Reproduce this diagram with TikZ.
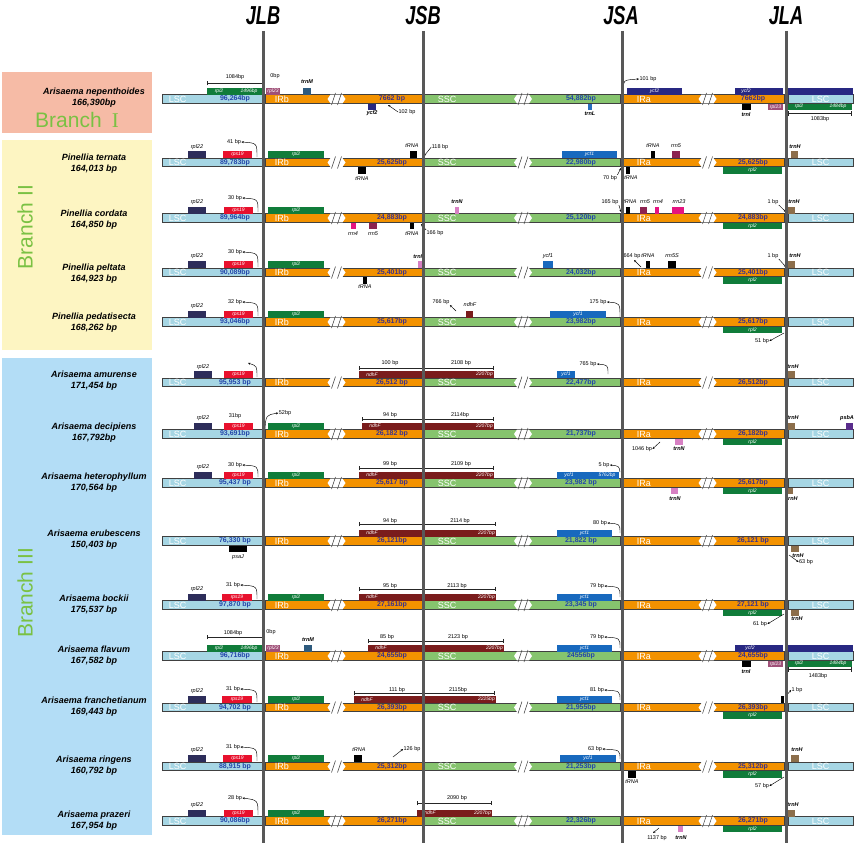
\documentclass[tikz,border=0pt]{standalone}
\usepackage{fontspec}
\setmainfont{Liberation Sans}
\newfontfamily\numfont{Liberation Serif}
\usetikzlibrary{arrows.meta,positioning}

\definecolor{lscblue}{RGB}{166,214,228}
\definecolor{irorange}{RGB}{243,146,0}
\definecolor{sscgreen}{RGB}{134,196,110}
\definecolor{bargray}{RGB}{64,64,64}
\definecolor{vgray}{RGB}{88,88,88}
\definecolor{valblue}{RGB}{35,70,170}
\definecolor{irval}{RGB}{60,50,140}
\definecolor{rplnavy}{RGB}{45,45,90}
\definecolor{rpsred}{RGB}{232,17,45}
\definecolor{rplgreen}{RGB}{16,124,58}
\definecolor{ycfblue}{RGB}{24,105,190}
\definecolor{ycftwo}{RGB}{40,40,130}
\definecolor{ndhred}{RGB}{122,28,28}
\definecolor{trnbrown}{RGB}{140,110,75}
\definecolor{trnpink}{RGB}{215,128,195}
\definecolor{trnlblue}{RGB}{40,110,190}
\definecolor{trnmblue}{RGB}{45,90,125}
\definecolor{rrnmaroon}{RGB}{140,35,80}
\definecolor{rrnmag}{RGB}{228,20,128}
\definecolor{rplmauve}{RGB}{160,80,120}
\definecolor{psbpurple}{RGB}{90,45,140}
\definecolor{brI}{RGB}{246,187,166}
\definecolor{brII}{RGB}{253,245,194}
\definecolor{brIII}{RGB}{179,221,246}
\definecolor{brgreen}{RGB}{122,193,67}

\newcounter{gcnt}
% break mark on a bar
\newcommand{\brk}[2]{%
  \fill[white] (#1-9,#2) -- (#1-6,#2-4.4) -- (#1+6,#2-4.4) -- (#1+9,#2) -- (#1+6,#2+4.4) -- (#1-6,#2+4.4) -- cycle;
  \draw[bargray,line width=0.5pt] (#1-5,#2+6) -- (#1-1,#2-6) (#1+1,#2+6) -- (#1+5,#2-6);}
% one genome: name, y, LSC, IRb, SSC, IRa
\newcommand{\genome}[6]{%
  \node[seg,fill=lscblue,minimum width=100pt] (#1lscb) at (212,#2) {};
  \node[seg,fill=irorange,minimum width=157pt] (#1irb) at (343.5,#2) {};
  \node[seg,fill=sscgreen,minimum width=196pt] (#1ssc) at (522,#2) {};
  \node[seg,fill=irorange,minimum width=161pt] (#1ira) at (703.5,#2) {};
  \node[seg,fill=lscblue,minimum width=65pt] (#1lsca) at (820.5,#2) {};
  \brk{336.5}{#2}\brk{523}{#2}\brk{707.5}{#2}
  \node[segname,right=7pt of #1lscb.west] (#1n1) {LSC};
  \node[segname,right=10pt of #1irb.west] (#1n2) {IRb};
  \node[segname,right=14pt of #1ssc.west] (#1n3) {SSC};
  \node[segname,right=14pt of #1ira.west] (#1n4) {IRa};
  \node[segname] (#1n5) at (#1lsca) {LSC};
  \node[bpval,text=valblue] (#1v1) at (235,#2) {#3};
  \node[bpval,text=irval] (#1v2) at (392,#2) {#4};
  \node[bpval,text=valblue] (#1v3) at (581,#2) {#5};
  \node[bpval,text=irval] (#1v4) at (753,#2) {#6};}
% gene box above / below a bar
\newcommand{\geneup}[5]{%
  \fill[#4] (#1,#3-11.5) rectangle (#2,#3-4.5);
  \stepcounter{gcnt}\node[gin] (gb\thegcnt) at ({(#1+#2)/2},#3-8) {#5};}
\newcommand{\genedn}[5]{%
  \fill[#4] (#1,#3+4.5) rectangle (#2,#3+11);
  \stepcounter{gcnt}\node[gin] (gb\thegcnt) at ({(#1+#2)/2},#3+7.75) {#5};}
% ndhF across JSB
\newcommand{\ndhf}[4]{%
  \fill[ndhred] (#1,#3-11.5) rectangle (#2,#3-4.5);
  \stepcounter{gcnt}\node[gin] (gb\thegcnt) at (#1+13,#3-8) {ndhF};
  \stepcounter{gcnt}\node[gin,anchor=east] (gb\thegcnt) at (#2-1,#3-8) {#4};}

\begin{document}
\begin{tikzpicture}[x=1pt,y=-1pt,
  seg/.style={rectangle,draw=bargray,line width=0.9pt,minimum height=8.5pt,inner sep=0pt},
  segname/.style={text=white,font=\fontsize{9}{9}\selectfont,inner sep=0pt},
  bpval/.style={font=\bfseries\fontsize{7}{7}\selectfont,inner sep=0pt},
  lbl/.style={font=\fontsize{5.5}{6}\selectfont,inner sep=0.3pt},
  glbl/.style={font=\itshape\fontsize{5.5}{6}\selectfont,inner sep=0.3pt},
  gbold/.style={font=\bfseries\itshape\fontsize{5.5}{6}\selectfont,inner sep=0.3pt},
  gin/.style={font=\itshape\fontsize{5}{5}\selectfont,text=white,inner sep=0pt},
  arw/.style={-{Stealth[length=2.4pt,width=2pt]},line width=0.45pt},
  dim/.style={{Bar[width=4.5pt]}-{Bar[width=4.5pt]},line width=0.7pt,draw=black!85},
  sp/.style={font=\bfseries\itshape\fontsize{9}{11}\selectfont,align=center,inner sep=0pt},
  junc/.style={font=\bfseries\itshape\fontsize{26}{26}\selectfont,inner sep=0pt},
  branch/.style={text=brgreen,font=\fontsize{21}{21}\selectfont,inner sep=0pt},
  vline/.style={vgray,line width=3pt}]
\useasboundingbox (0,0) rectangle (858,843);

% branch panels
\fill[brI] (2,72) rectangle (152,133);
\fill[brII] (2,140) rectangle (152,350);
\fill[brIII] (2,358) rectangle (152,835);
\node[branch] (br1) at (77,120) {Branch\hspace{10pt}{\numfont I}};
\node[branch,rotate=90] (br2) at (25,227) {Branch II};
\node[branch,rotate=90] (br3) at (25,593) {Branch III};

% species
\node[sp] (sa) at (94,97.5) {Arisaema nepenthoides\\166,390bp};
\node[sp] (sb) at (94,163.5) {Pinellia ternata\\164,013 bp};
\node[sp] (sc) at (94,219.5) {Pinellia cordata\\164,850 bp};
\node[sp] (sd) at (94,273.5) {Pinellia peltata\\164,923 bp};
\node[sp] (se) at (94,323) {Pinellia pedatisecta\\168,262 bp};
\node[sp] (sf) at (94,381) {Arisaema amurense\\171,454 bp};
\node[sp] (sg) at (94,433) {Arisaema decipiens\\167,792bp};
\node[sp] (sh) at (94,483) {Arisaema heterophyllum\\170,564 bp};
\node[sp] (si) at (94,540) {Arisaema erubescens\\150,403 bp};
\node[sp] (sj) at (94,605) {Arisaema bockii\\175,537 bp};
\node[sp] (sk) at (94,656) {Arisaema flavum\\167,582 bp};
\node[sp] (sl) at (94,707) {Arisaema franchetianum\\169,443 bp};
\node[sp] (sm) at (94,766) {Arisaema ringens\\160,792 bp};
\node[sp] (sn) at (94,821) {Arisaema prazeri\\167,954 bp};

% genomes
\genome{a}{99}{96,264bp}{7662 bp}{54,882bp}{7662bp}
\genome{b}{162.5}{89,783bp}{25,625bp}{22,980bp}{25,625bp}
\genome{c}{218}{89,964bp}{24,883bp}{25,120bp}{24,883bp}
\genome{d}{272.5}{90,089bp}{25,401bp}{24,032bp}{25,401bp}
\genome{e}{322}{93,046bp}{25,617bp}{23,982bp}{25,617bp}
\genome{f}{382.5}{95,953 bp}{26,512 bp}{22,477bp}{26,512bp}
\genome{g}{434}{93,691bp}{26,182 bp}{21,737bp}{26,182bp}
\genome{h}{483}{95,437 bp}{25,617 bp}{23,982 bp}{25,617bp}
\genome{i}{541}{76,330 bp}{26,121bp}{21,822 bp}{26,121 bp}
\genome{j}{605}{97,870 bp}{27,161bp}{23,345 bp}{27,121 bp}
\genome{k}{656}{96,716bp}{24,655bp}{24556bp}{24,655bp}
\genome{l}{707.5}{94,702 bp}{26,393bp}{21,955bp}{26,393bp}
\genome{m}{766.5}{88,915 bp}{25,312bp}{21,253bp}{25,312bp}
\genome{n}{821}{90,086bp}{26,271bp}{22,326bp}{26,271bp}

% Arisaema nepenthoides
\draw[dim] (207,83) -- (263,83);
\node[lbl] (a1) at (235,77.5) {1084bp};
\node[lbl] (a2) at (275,76.5) {0bp};
\geneup{207}{262}{99}{rplgreen}{}
\node[gin] (a3) at (219,91) {rpl2};
\node[gin] (a4) at (249,91) {1496bp};
\geneup{266}{280}{99}{rplmauve}{rpl23}
\geneup{303}{311}{99}{trnmblue}{}
\node[gbold] (a5) at (307,82) {trnM};
\genedn{368}{376}{99}{ycftwo}{}
\node[gbold] (a6) at (372,113.5) {ycf2};
\node[lbl] (a7) at (407,112) {102 bp};
\draw[arw] (a7.west) -- (388,105);
\node[lbl] (a8) at (648,79) {101 bp};
\draw[arw] (623,91) .. controls (623,80) .. (a8.west);
\geneup{627}{682}{99}{ycftwo}{ycf2}
\geneup{735}{783}{99}{ycftwo}{}
\node[gin] (a9) at (746,91) {ycf2};
\geneup{788}{853}{99}{ycftwo}{}
\genedn{588}{592}{99}{trnlblue}{}
\node[gbold] (a10) at (590,113.5) {trnL};
\genedn{742}{751}{99}{black}{}
\node[gbold] (a11) at (746,115) {trnI};
\genedn{768}{783}{99}{rplmauve}{rpl23}
\genedn{788}{852}{99}{rplgreen}{}
\node[gin] (a12) at (799,106.5) {rpl2};
\node[gin] (a13) at (838,106.5) {1484bp};
\draw[dim] (788,113.5) -- (852,113.5);
\node[lbl] (a14) at (820,119.5) {1083bp};

% Pinellia ternata
\geneup{188}{206}{162.5}{rplnavy}{}
\node[glbl] (b1) at (197,147) {rpl22};
\geneup{223}{252}{162.5}{rpsred}{rps19}
\node[lbl] (b2) at (234,142) {41 bp};
\draw[arw] (257,157) .. controls (257,143) .. (b2.east);
\geneup{268}{324}{162.5}{rplgreen}{rpl2}
\geneup{410}{417}{162.5}{black}{}
\node[glbl] (b3) at (412,146) {tRNA};
\node[lbl] (b4) at (440,147) {118 bp};
\draw[arw] (b4.west) -- (424,156);
\genedn{358}{366}{162.5}{black}{}
\node[glbl] (b5) at (362,179) {tRNA};
\geneup{562}{617}{162.5}{ycfblue}{ycf1}
\geneup{651}{655}{162.5}{black}{}
\node[glbl] (b6) at (653,146) {tRNA};
\geneup{672}{680}{162.5}{rrnmaroon}{}
\node[glbl] (b7) at (676,146) {rrn5};
\geneup{791}{798}{162.5}{trnbrown}{}
\node[gbold] (b8) at (795,147) {trnH};
\genedn{626}{630}{162.5}{black}{}
\node[glbl] (b9) at (631,178) {tRNA};
\node[lbl] (b10) at (610,178) {70 bp};
\draw[arw] (b10.north east) -- (621,168);
\genedn{723}{782}{162.5}{rplgreen}{rpl2}

% Pinellia cordata
\geneup{188}{206}{218}{rplnavy}{}
\node[glbl] (c1) at (197,202) {rpl22};
\geneup{224}{253}{218}{rpsred}{rps19}
\node[lbl] (c2) at (235,198) {30 bp};
\draw[arw] (258,212) .. controls (258,199) .. (c2.east);
\geneup{268}{324}{218}{rplgreen}{rpl2}
\genedn{351}{356}{218}{rrnmag}{}
\node[glbl] (c3) at (353,234) {rrn4};
\genedn{369}{377}{218}{rrnmaroon}{}
\node[glbl] (c4) at (373,234) {rrn5};
\genedn{410}{414}{218}{black}{}
\node[glbl] (c5) at (412,234) {tRNA};
\node[lbl] (c6) at (435,233) {166 bp};
\draw[arw] (c6.north west) -- (421,224);
\geneup{455}{459}{218}{trnpink}{}
\node[gbold] (c7) at (457,202) {trnN};
\node[lbl] (c8) at (610,202) {165 bp};
\draw[arw] (c8.south east) -- (621,212);
\geneup{626}{630}{218}{black}{}
\node[glbl] (c9) at (630,202) {tRNA};
\geneup{640}{647}{218}{rrnmaroon}{}
\node[glbl] (c10) at (645,202) {rrn5};
\geneup{655}{659}{218}{rrnmag}{}
\node[glbl] (c11) at (658,202) {rrn4};
\geneup{672}{684}{218}{rrnmag}{}
\node[glbl] (c12) at (679,202) {rrn23};
\node[lbl] (c13) at (773,202) {1 bp};
\draw[arw] (c13.south east) -- (786,212);
\geneup{788}{795}{218}{trnbrown}{}
\node[gbold] (c14) at (794,202) {trnH};
\genedn{723}{782}{218}{rplgreen}{rpl2}

% Pinellia peltata
\geneup{188}{206}{272.5}{rplnavy}{}
\node[glbl] (d1) at (197,256) {rpl22};
\geneup{224}{253}{272.5}{rpsred}{rps19}
\node[lbl] (d2) at (235,252) {30 bp};
\draw[arw] (258,267) .. controls (258,253) .. (d2.east);
\geneup{268}{324}{272.5}{rplgreen}{rpl2}
\geneup{418}{422}{272.5}{trnpink}{}
\node[gbold] (d3) at (419,257) {trnN};
\genedn{363}{367}{272.5}{black}{}
\node[glbl] (d4) at (365,287) {tRNA};
\geneup{543}{553}{272.5}{ycfblue}{}
\node[glbl] (d5) at (548,256) {ycf1};
\node[lbl] (d6) at (632,256) {664 bp};
\draw[arw] (641,267) -- (634,260);
\geneup{646}{650}{272.5}{black}{}
\node[glbl] (d7) at (648,256) {tRNA};
\geneup{668}{676}{272.5}{black}{}
\node[glbl] (d8) at (672,256) {rrn5S};
\node[lbl] (d9) at (773,256) {1 bp};
\draw[arw] (d9.south east) -- (786,267);
\geneup{788}{795}{272.5}{trnbrown}{}
\node[gbold] (d10) at (795,256) {trnH};
\genedn{723}{782}{272.5}{rplgreen}{rpl2}

% Pinellia pedatisecta
\geneup{188}{206}{322}{rplnavy}{}
\node[glbl] (e1) at (197,306) {rpl22};
\geneup{224}{253}{322}{rpsred}{rps19}
\node[lbl] (e2) at (235,302) {32 bp};
\draw[arw] (258,316) .. controls (258,303) .. (e2.east);
\geneup{268}{324}{322}{rplgreen}{rpl2}
\node[lbl] (e3) at (441,302) {766 bp};
\draw[arw] (456,311) -- (e3.south east);
\geneup{466}{473}{322}{ndhred}{}
\node[glbl] (e4) at (470,305) {ndhF};
\geneup{550}{606}{322}{ycfblue}{ycf1}
\node[lbl] (e5) at (598,302) {175 bp};
\draw[arw] (620,317) .. controls (620,303) .. (e5.east);
\genedn{723}{782}{322}{rplgreen}{rpl2}
\node[lbl] (e6) at (762,341) {51 bp};
\draw[arw] (784,333) -- (e6.east);

% Arisaema amurense
\geneup{194}{212}{382.5}{rplnavy}{}
\node[glbl] (f1) at (203,367) {rpl22};
\geneup{224}{253}{382.5}{rpsred}{rps19}
\draw[arw] (257,377) .. controls (257,366) .. (248,363);
\draw[dim] (359,368) -- (423,368);
\node[lbl] (f2) at (390,363) {100 bp};
\ndhf{359}{494}{382.5}{2207bp}
\draw[dim] (423,368) -- (494,368);
\node[lbl] (f3) at (461,363) {2108 bp};
\geneup{557}{575}{382.5}{ycfblue}{ycf1}
\node[lbl] (f4) at (588,364) {765 bp};
\draw[arw] (608,374) .. controls (608,365) .. (f4.east);
\geneup{788}{795}{382.5}{trnbrown}{}
\node[gbold] (f5) at (793,367) {trnH};

% Arisaema decipiens
\geneup{194}{212}{434}{rplnavy}{}
\node[glbl] (g1) at (203,418) {rpl22};
\geneup{224}{253}{434}{rpsred}{rps19}
\node[lbl] (g2) at (235,416) {31bp};
\node[lbl] (g3) at (285,413) {52bp};
\draw[arw] (265,429) .. controls (266,415) .. (g3.west);
\geneup{268}{324}{434}{rplgreen}{rpl2}
\draw[dim] (362,419) -- (423,419);
\node[lbl] (g4) at (390,415) {94 bp};
\ndhf{362}{494}{434}{2207bp}
\draw[dim] (423,419) -- (494,419);
\node[lbl] (g5) at (460,415) {2114bp};
\geneup{788}{795}{434}{trnbrown}{}
\node[gbold] (g6) at (793,418) {trnH};
\geneup{846}{853}{434}{psbpurple}{}
\node[gbold] (g7) at (847,418) {psbA};
\genedn{675}{683}{434}{trnpink}{}
\node[gbold] (g8) at (679,449) {trnN};
\node[lbl] (g9) at (642,449) {1046 bp};
\draw[arw] (660,442) -- (g9.east);
\genedn{723}{782}{434}{rplgreen}{rpl2}

% Arisaema heterophyllum
\geneup{194}{212}{483}{rplnavy}{}
\node[glbl] (h1) at (203,467) {rpl22};
\geneup{224}{253}{483}{rpsred}{rps19}
\node[lbl] (h2) at (235,465) {30 bp};
\draw[arw] (258,477) .. controls (258,466) .. (h2.east);
\geneup{268}{324}{483}{rplgreen}{rpl2}
\draw[dim] (359,468) -- (423,468);
\node[lbl] (h3) at (390,464) {99 bp};
\ndhf{359}{494}{483}{2207bp}
\draw[dim] (423,468) -- (494,468);
\node[lbl] (h4) at (461,464) {2109 bp};
\geneup{557}{619}{483}{ycfblue}{}
\node[gin] (h5) at (569,475) {ycf1};
\node[gin] (h6) at (607,475) {5762bp};
\node[lbl] (h7) at (604,465) {5 bp};
\draw[arw] (620,472) .. controls (619,466) .. (h7.east);
\genedn{671}{678}{483}{trnpink}{}
\node[gbold] (h8) at (675,499) {trnN};
\genedn{723}{782}{483}{rplgreen}{rpl2}
\genedn{788}{793}{483}{trnbrown}{}
\node[gbold] (h9) at (792,499) {trnH};

% Arisaema erubescens
\genedn{229}{247}{541}{black}{}
\node[glbl] (i1) at (238,557) {psaJ};
\draw[dim] (359,524) -- (423,524);
\node[lbl] (i2) at (390,521.5) {94 bp};
\ndhf{359}{496}{541}{2207bp}
\draw[dim] (423,524) -- (496,524);
\node[lbl] (i3) at (460,521.5) {2114 bp};
\geneup{557}{612}{541}{ycfblue}{ycf1}
\node[lbl] (i4) at (600,523) {80 bp};
\draw[arw] (620,533) .. controls (620,524) .. (i4.east);
\genedn{791}{799}{541}{trnbrown}{}
\node[gbold] (i5) at (798,556) {trnH};
\node[lbl] (i6) at (806,562) {63 bp};
\draw[arw] (789,555) -- (i6.west);

% Arisaema bockii
\geneup{188}{206}{605}{rplnavy}{}
\node[glbl] (j1) at (197,589) {rpl22};
\geneup{222}{252}{605}{rpsred}{rps19}
\node[lbl] (j2) at (233,585) {31 bp};
\draw[arw] (257,599) .. controls (257,586) .. (j2.east);
\geneup{268}{324}{605}{rplgreen}{rpl2}
\draw[dim] (359,589) -- (423,589);
\node[lbl] (j3) at (390,586) {95 bp};
\ndhf{359}{496}{605}{2207bp}
\draw[dim] (423,589) -- (496,589);
\node[lbl] (j4) at (457,586) {2113 bp};
\geneup{557}{612}{605}{ycfblue}{ycf1}
\node[lbl] (j5) at (597,586) {79 bp};
\draw[arw] (620,597) .. controls (620,587) .. (j5.east);
\genedn{723}{782}{605}{rplgreen}{rpl2}
\genedn{791}{799}{605}{trnbrown}{}
\node[gbold] (j6) at (797,619) {trnH};
\node[lbl] (j7) at (760,624) {61 bp};
\draw[arw] (784,614) -- (j7.east);

% Arisaema flavum
\draw[dim] (207,637) -- (263,637);
\node[lbl] (k1) at (233,633) {1084bp};
\node[lbl] (k2) at (271,632) {0bp};
\geneup{207}{262}{656}{rplgreen}{}
\node[gin] (k3) at (219,648) {rpl2};
\node[gin] (k4) at (249,648) {1496bp};
\geneup{266}{280}{656}{rplmauve}{rpl23}
\geneup{304}{312}{656}{trnmblue}{}
\node[gbold] (k5) at (308,640) {trnM};
\draw[dim] (368,641) -- (423,641);
\node[lbl] (k6) at (387,637) {85 bp};
\ndhf{368}{504}{656}{2207bp}
\draw[dim] (423,641) -- (504,641);
\node[lbl] (k7) at (458,637) {2123 bp};
\geneup{557}{612}{656}{ycfblue}{ycf1}
\node[lbl] (k8) at (597,637) {79 bp};
\draw[arw] (620,648) .. controls (620,638) .. (k8.east);
\geneup{735}{783}{656}{ycftwo}{}
\node[gin] (k9) at (750,648) {ycf2};
\geneup{788}{853}{656}{ycftwo}{}
\genedn{742}{751}{656}{black}{}
\node[gbold] (k10) at (746,672) {trnI};
\genedn{768}{783}{656}{rplmauve}{rpl23}
\genedn{788}{852}{656}{rplgreen}{}
\node[gin] (k11) at (799,663.5) {rpl2};
\node[gin] (k12) at (838,663.5) {1484bp};
\draw[dim] (788,669.5) -- (852,669.5);
\node[lbl] (k13) at (818,676) {1483bp};

% Arisaema franchetianum
\geneup{188}{206}{707.5}{rplnavy}{}
\node[glbl] (l1) at (197,691) {rpl22};
\geneup{222}{252}{707.5}{rpsred}{rps19}
\node[lbl] (l2) at (233,689) {31 bp};
\draw[arw] (257,702) .. controls (257,690) .. (l2.east);
\geneup{268}{324}{707.5}{rplgreen}{rpl2}
\draw[dim] (354,693) -- (423,693);
\node[lbl] (l3) at (397,690) {111 bp};
\ndhf{354}{496}{707.5}{2225bp}
\draw[dim] (423,693) -- (495,693);
\node[lbl] (l4) at (458,690) {2115bp};
\geneup{557}{612}{707.5}{ycfblue}{ycf1}
\node[lbl] (l5) at (597,690) {81 bp};
\draw[arw] (620,700) .. controls (620,691) .. (l5.east);
\geneup{781}{784}{707.5}{black}{}
\node[lbl] (l6) at (797,690) {1 bp};
\draw[arw] (785,697) -- (l6.west);
\genedn{723}{782}{707.5}{rplgreen}{rpl2}

% Arisaema ringens
\geneup{188}{206}{766.5}{rplnavy}{}
\node[glbl] (m1) at (197,750) {rpl22};
\geneup{223}{252}{766.5}{rpsred}{rps19}
\node[lbl] (m2) at (233,747) {31 bp};
\draw[arw] (257,761) .. controls (257,748) .. (m2.east);
\geneup{268}{324}{766.5}{rplgreen}{rpl2}
\geneup{354}{362}{766.5}{black}{}
\node[glbl] (m3) at (359,750) {tRNA};
\node[lbl] (m4) at (412,749) {126 bp};
\draw[arw] (393,757) -- (m4.west);
\geneup{560}{616}{766.5}{ycfblue}{ycf1}
\node[lbl] (m5) at (595,749) {63 bp};
\draw[arw] (620,759) .. controls (620,750) .. (m5.east);
\geneup{791}{799}{766.5}{trnbrown}{}
\node[gbold] (m6) at (797,750) {trnH};
\genedn{628}{636}{766.5}{black}{}
\node[glbl] (m7) at (632,782) {tRNA};
\genedn{723}{782}{766.5}{rplgreen}{rpl2}
\node[lbl] (m8) at (762,786) {57 bp};
\draw[arw] (784,777) -- (m8.east);

% Arisaema prazeri
\geneup{188}{206}{821}{rplnavy}{}
\node[glbl] (n1) at (197,805) {rpl22};
\geneup{224}{253}{821}{rpsred}{rps19}
\node[lbl] (n2) at (235,798) {28 bp};
\draw[arw] (258,815) .. controls (258,800) .. (n2.east);
\geneup{268}{324}{821}{rplgreen}{rpl2}
\ndhf{417}{492}{821}{2207bp}
\draw[dim] (417,803) -- (492,803);
\node[lbl] (n3) at (457,798) {2090 bp};
\genedn{678}{683}{821}{trnpink}{}
\node[gbold] (n4) at (681,838) {trnN};
\node[lbl] (n5) at (657,838) {1137 bp};
\draw[arw] (659,828) -- (653,833);
\geneup{788}{795}{821}{trnbrown}{}
\node[gbold] (n6) at (793,805) {trnH};
\genedn{723}{782}{821}{rplgreen}{rpl2}

% junction lines
\node[junc] (jlb) at (263,16) {\scalebox{0.7}[1]{JLB}};
\node[junc] (jsb) at (423,16) {\scalebox{0.7}[1]{JSB}};
\node[junc] (jsa) at (621,16) {\scalebox{0.7}[1]{JSA}};
\node[junc] (jla) at (786,16) {\scalebox{0.7}[1]{JLA}};
\draw[vline] (263,31) -- (263,843);
\draw[vline] (423,31) -- (423,843);
\draw[vline] (622,31) -- (622,843);
\draw[vline] (786,31) -- (786,843);
\end{tikzpicture}
\end{document}
